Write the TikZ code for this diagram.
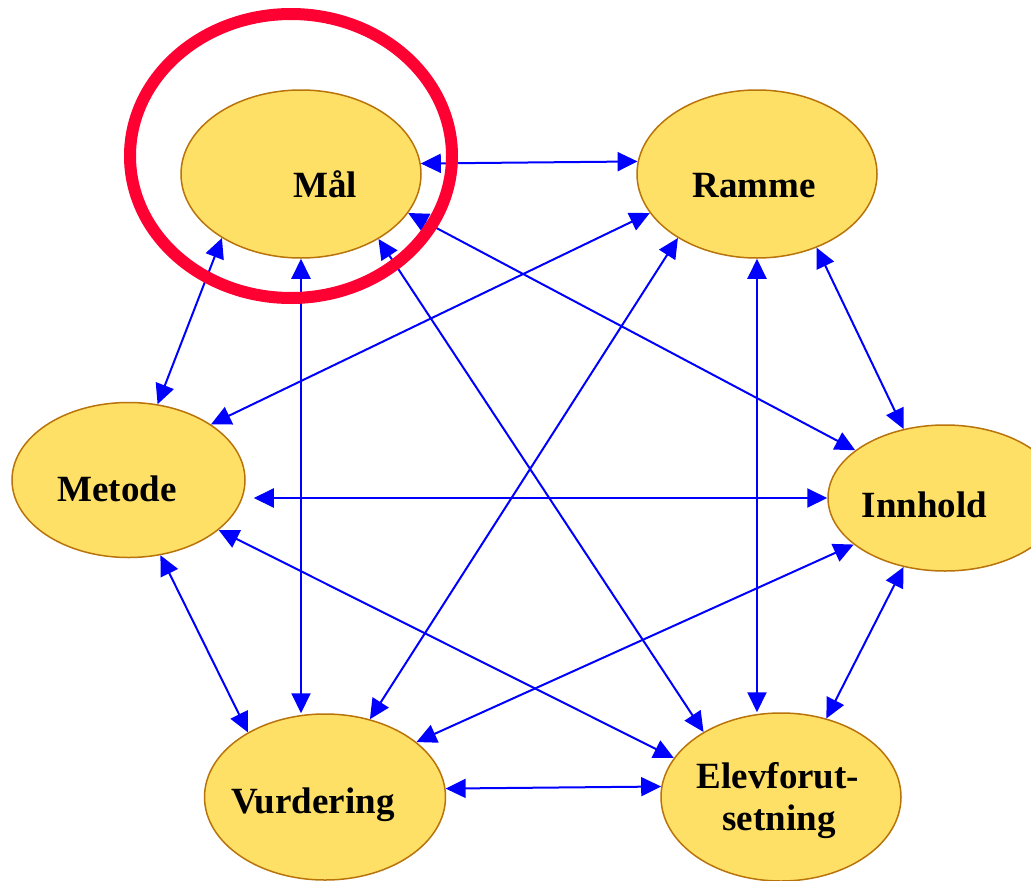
\documentclass[tikz,border=0pt]{standalone}
\usepackage{fontspec}
\setmainfont{Liberation Serif}
\usetikzlibrary{arrows.meta,shapes.geometric}
\definecolor{ellfill}{HTML}{FFE066}
\definecolor{ellborder}{HTML}{B8740A}
\definecolor{linkblue}{HTML}{0000FF}
\definecolor{ringred}{HTML}{FF0033}
\begin{document}
\begin{tikzpicture}[x=1pt,y=-1pt,
  ell/.style={ellipse, draw=ellborder, fill=ellfill, line width=1.5pt, inner sep=0pt},
  lbl/.style={font=\fontsize{37}{42}\selectfont\bfseries, anchor=base, inner sep=0pt},
  link/.style={draw=linkblue, line width=2pt, {Triangle[length=20pt,width=19pt]}-{Triangle[length=20pt,width=19pt]}},
  ring/.style={draw=ringred, line width=12pt}
]
\useasboundingbox (0,0) rectangle (1031,881);
\fill[white] (0,0) rectangle (1031,881);
\clip (0,0) rectangle (1031,881);

% nodes
\node[ell, minimum width=240pt, minimum height=168pt] (mal) at (301,174) {};
\node[ell, minimum width=240pt, minimum height=168pt] (ramme) at (757,174) {};
\node[ell, minimum width=233pt, minimum height=155pt] (metode) at (128.5,480) {};
\node[ell, minimum width=234pt, minimum height=146pt] (innhold) at (945,498) {};
\node[ell, minimum width=241pt, minimum height=166pt] (vurd) at (325,797) {};
\node[ell, minimum width=240pt, minimum height=168pt] (elev) at (781,797) {};

% labels
\node[lbl] (tmal) at (325,197) {Mål};
\node[lbl] (tramme) at (754,197) {Ramme};
\node[lbl] (tmetode) at (117,501) {Metode};
\node[lbl] (tinnhold) at (924.5,517) {Innhold};
\node[lbl] (tvurd) at (313,813) {Vurdering};
\node[lbl] (telev1) at (778,788) {Elevforut-};
\node[lbl] (telev2) at (779,830) {setning};

% connectors
\draw[link] (mal.5.7) -- (ramme.174.3);
\draw[link] (mal.219.9) -- (metode.69.9);
\draw[link] (mal.south) -- (mal.south |- vurd.north);
\draw[link] (mal.-20.6) -- (innhold.152.7);
\draw[link] (mal.-40.3) -- (elev.140.2);
\draw[link] (ramme.200.9) -- (metode.34.7);
\draw[link] (ramme.219.9) -- (vurd.60);
\draw[link] (ramme.south) -- (ramme.south |- elev.north);
\draw[link] (ramme.-51.8) -- (innhold.121.4);
\draw[link, shorten >=8pt] (innhold.west) -- (innhold.west -| metode.east);
\draw[link] (metode.-29.3) -- (elev.160.7);
\draw[link] (metode.-67) -- (vurd.140.6);
\draw[link] (innhold.207.3) -- (vurd.31.3);
\draw[link] (innhold.239.3) -- (elev.60.3);
\draw[link] (vurd.4.8) -- (elev.175.2);

% highlight ring
\draw[ring] (291,156) ellipse [x radius=161, y radius=142];
\end{tikzpicture}
\end{document}
